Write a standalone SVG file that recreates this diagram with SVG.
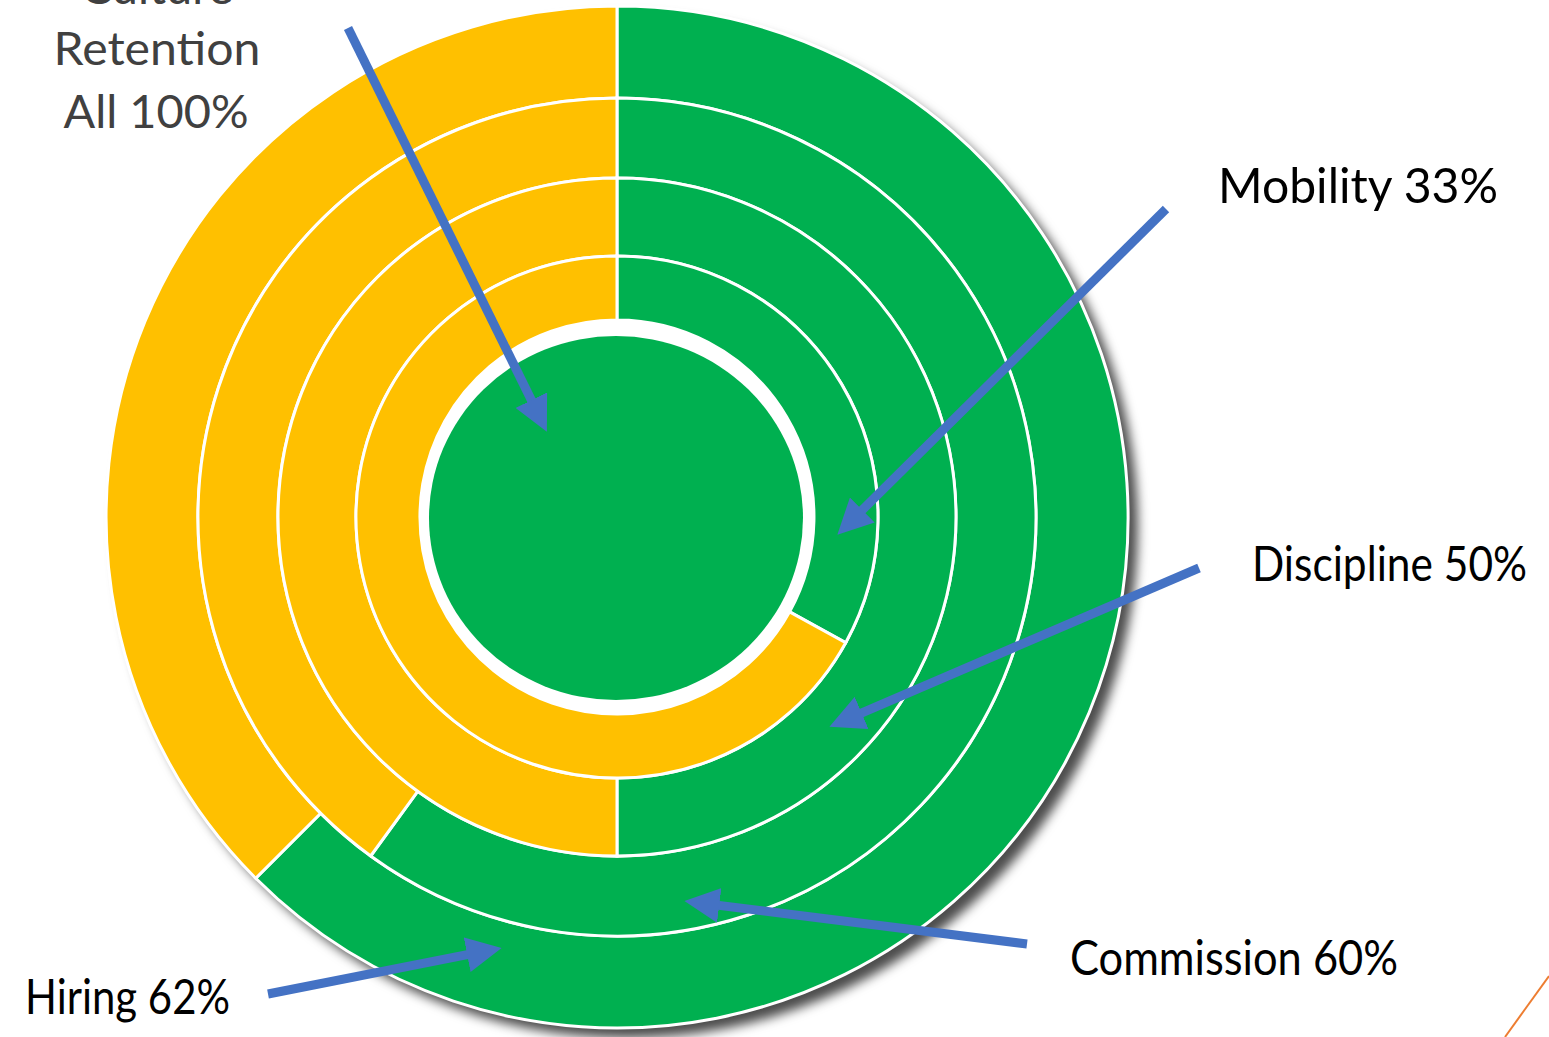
<svg xmlns="http://www.w3.org/2000/svg" width="1549" height="1037" viewBox="0 0 1549 1037">
  <defs>
    <style>
      .g { fill: #00B050; stroke: #FFFFFF; stroke-width: 3; }
      .y { fill: #FFC000; stroke: #FFFFFF; stroke-width: 3; }
      .lbl { font-family: Lato, "Open Sans", "Liberation Sans", sans-serif; font-size: 48px; fill: #000000; }
      .gray { font-family: Lato, "Open Sans", "Liberation Sans", sans-serif; font-size: 47px; fill: #404040; text-anchor: middle; }
      .arr { stroke: #4472C4; stroke-width: 9; fill: none; stroke-linecap: butt; marker-end: url(#head); }
    </style>
    <marker id="head" viewBox="0 0 10 10" markerWidth="3.9" markerHeight="3.9" refX="3" refY="5" orient="auto">
      <path d="M0,0 L10,5 L0,10 Z" fill="#4472C4"/>
    </marker>
    <filter id="shadow" x="-10%" y="-10%" width="125%" height="125%">
      <feDropShadow dx="10" dy="10" stdDeviation="5.5" flood-color="#000000" flood-opacity="0.7"/>
    </filter>
  </defs>

  <rect x="0" y="0" width="1549" height="1037" fill="#FFFFFF"/>

  <circle cx="617" cy="517" r="511" fill="#FFFFFF" filter="url(#shadow)"/>

  <g id="ring-hiring">
    <path class="g" d="M617,6 A511,511 0 1 1 255.7,878.3 L320.7,813.3 A419,419 0 1 0 617,98 Z"/>
    <path class="y" d="M255.7,878.3 A511,511 0 0 1 617,6 L617,98 A419,419 0 0 0 320.7,813.3 Z"/>
  </g>
  <g id="ring-commission">
    <path class="g" d="M617,98 A419,419 0 1 1 370.7,856 L417.7,791.3 A339,339 0 1 0 617,178 Z"/>
    <path class="y" d="M370.7,856 A419,419 0 0 1 617,98 L617,178 A339,339 0 0 0 417.7,791.3 Z"/>
  </g>
  <g id="ring-discipline">
    <path class="g" d="M617,178 A339,339 0 0 1 617,856 L617,778 A261,261 0 0 0 617,256 Z"/>
    <path class="y" d="M617,856 A339,339 0 0 1 617,178 L617,256 A261,261 0 0 0 617,778 Z"/>
  </g>
  <g id="ring-mobility">
    <path class="g" d="M617,256 A261,261 0 0 1 845.7,642.7 L789.6,611.9 A197,197 0 0 0 617,320 Z"/>
    <path class="y" d="M845.7,642.7 A261,261 0 1 1 617,256 L617,320 A197,197 0 1 0 789.6,611.9 Z"/>
  </g>
  <g id="center-retention">
    <ellipse cx="616" cy="518" rx="187" ry="182" fill="#00B050"/>
  </g>

  <g id="connectors">
    <line class="arr" x1="348" y1="28" x2="536" y2="409.6"/>
    <line class="arr" x1="1166" y1="209" x2="854.8" y2="517.4"/>
    <line class="arr" x1="1199" y1="568" x2="852" y2="717.1"/>
    <line class="arr" x1="1027" y1="944" x2="708.8" y2="904.1"/>
    <line class="arr" x1="268" y1="994" x2="477.5" y2="952.7"/>
  </g>

  <g id="label-retention">
    <text class="gray" x="157" y="4">Culture</text>
    <text class="gray" x="157" y="65" textLength="207" lengthAdjust="spacingAndGlyphs">Retention</text>
    <text class="gray" x="156" y="128" textLength="185" lengthAdjust="spacingAndGlyphs">All 100%</text>
  </g>
  <g id="label-mobility">
    <text class="lbl" x="1218" y="203" textLength="280" lengthAdjust="spacingAndGlyphs">Mobility 33%</text>
  </g>
  <g id="label-discipline">
    <text class="lbl" x="1252" y="581" textLength="275" lengthAdjust="spacingAndGlyphs">Discipline 50%</text>
  </g>
  <g id="label-commission">
    <text class="lbl" x="1070" y="975" textLength="328" lengthAdjust="spacingAndGlyphs">Commission 60%</text>
  </g>
  <g id="label-hiring">
    <text class="lbl" x="25" y="1014" textLength="205" lengthAdjust="spacingAndGlyphs">Hiring 62%</text>
  </g>

  <line x1="1549" y1="976" x2="1505" y2="1037" stroke="#ED7D31" stroke-width="2"/>
</svg>
